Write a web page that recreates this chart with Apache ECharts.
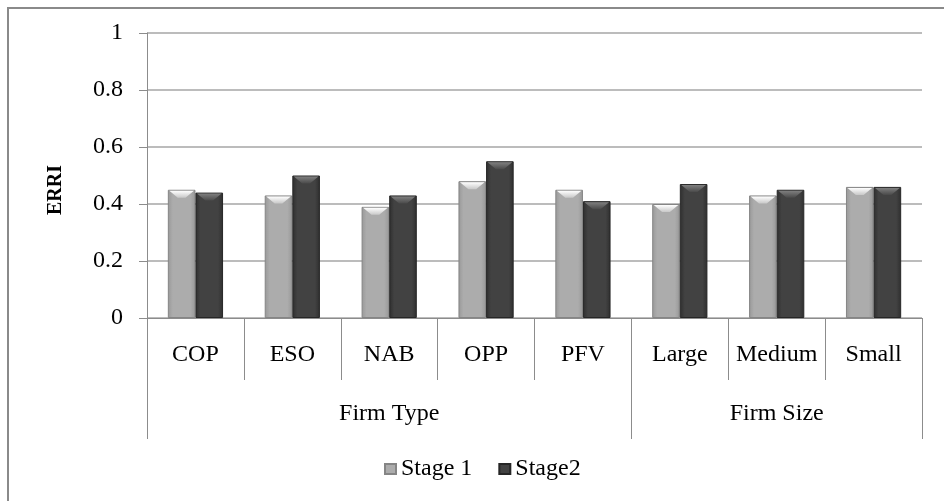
<!DOCTYPE html>
<html>
<head>
<meta charset="utf-8">
<script src="https://cdn.jsdelivr.net/npm/echarts@6/dist/echarts.min.js"></script>
<style>
  html, body { margin: 0; padding: 0; background: #fff; }
  #chart { width: 944px; height: 501px; }
</style>
</head>
<body>
<div id="chart"></div>
<script>
// ERRI by firm type and firm size, two stages
const categories = ['COP', 'ESO', 'NAB', 'OPP', 'PFV', 'Large', 'Medium', 'Small'];
const groupLabels = ['', '', 'Firm Type', '', '', '', 'Firm Size', ''];
const groupStarts = [0, 5];
const stage1 = [0.45, 0.43, 0.39, 0.48, 0.45, 0.40, 0.43, 0.46];
const stage2 = [0.44, 0.50, 0.43, 0.55, 0.41, 0.47, 0.45, 0.46];
const yTicks = [0, 0.2, 0.4, 0.6, 0.8, 1];

const FONT = '"Liberation Serif", "Times New Roman", serif';
const BAR_RATIO = 0.285;

function hGrad(edge, mid) {
  return new echarts.graphic.LinearGradient(0, 0, 1, 0, [
    { offset: 0, color: edge },
    { offset: 0.18, color: mid },
    { offset: 0.82, color: mid },
    { offset: 1, color: edge }
  ]);
}

// top chevron highlight on each bar
function bevel(side, light, dark) {
  return function (params, api) {
    const i = api.value(0);
    const v = api.value(1);
    const pt = api.coord([i, v]);
    const band = api.size([1, 0])[0];
    const w = band * BAR_RATIO;
    const x = side === 0 ? pt[0] - w : pt[0];
    const y = pt[1];
    const h = 8;
    return {
      type: 'polygon',
      shape: {
        points: [
          [x + 1.5, y + 1], [x + w - 1.5, y + 1],
          [x + w * 0.64, y + h], [x + w * 0.36, y + h]
        ]
      },
      style: {
        fill: new echarts.graphic.LinearGradient(0, 0, 0, 1, [
          { offset: 0, color: light },
          { offset: 1, color: dark }
        ])
      },
      silent: true
    };
  };
}

const chart = echarts.init(document.getElementById('chart'), null, { renderer: 'canvas' });

chart.setOption({
  animation: false,
  backgroundColor: '#fff',
  textStyle: { fontFamily: FONT },
  grid: { left: 147, right: 22, top: 33, bottom: 183, containLabel: false },
  legend: {
    data: ['Stage 1', 'Stage2'],
    left: 379,
    top: 452,
    itemWidth: 11,
    itemHeight: 10,
    itemGap: 26,
    icon: 'rect',
    textStyle: { fontFamily: FONT, fontSize: 24, color: '#000' }
  },
  graphic: [
    {
      type: 'rect',
      shape: { x: 8, y: 8, width: 1200, height: 1200 },
      style: { fill: 'none', stroke: '#8a8a8a', lineWidth: 2 },
      silent: true
    },
    {
      type: 'text',
      x: 56,
      y: 190,
      rotation: Math.PI / 2,
      style: {
        text: 'ERRI',
        font: 'bold 20px ' + FONT,
        fill: '#000',
        align: 'center',
        verticalAlign: 'middle'
      }
    }
  ],
  xAxis: [
    {
      type: 'category',
      data: categories,
      position: 'bottom',
      axisLine: { lineStyle: { color: '#8c8c8c', width: 1 } },
      axisTick: { show: true, length: 62, lineStyle: { color: '#8c8c8c', width: 1 } },
      axisLabel: { fontFamily: FONT, fontSize: 24, color: '#000', margin: 25, interval: 0 },
      splitLine: { show: false }
    },
    {
      type: 'category',
      data: groupLabels,
      position: 'bottom',
      axisLine: { show: false },
      axisTick: {
        show: true,
        length: 121,
        interval: function (index) { return groupStarts.indexOf(index) >= 0; },
        lineStyle: { color: '#8c8c8c', width: 1 }
      },
      axisLabel: { fontFamily: FONT, fontSize: 24, color: '#000', margin: 84, interval: 0 },
      splitLine: { show: false }
    }
  ],
  yAxis: {
    type: 'value',
    min: yTicks[0],
    max: yTicks[yTicks.length - 1],
    interval: 0.2,
    axisLine: { show: true, lineStyle: { color: '#8c8c8c', width: 1 } },
    axisTick: { show: true, length: 8, lineStyle: { color: '#8c8c8c', width: 1 } },
    axisLabel: {
      fontFamily: FONT, fontSize: 24, color: '#000', margin: 24,
      formatter: function (v) { return String(Math.round(v * 10) / 10); }
    },
    splitLine: { show: true, lineStyle: { color: '#a6a6a6', width: 1.5 } }
  },
  series: [
    {
      name: 'Stage 1',
      type: 'bar',
      data: stage1,
      barGap: '0%',
      barCategoryGap: '43%',
      itemStyle: { color: hGrad('#989898', '#acacac'), borderColor: '#858585', borderWidth: 1 },
      z: 2
    },
    {
      name: 'Stage2',
      type: 'bar',
      data: stage2,
      itemStyle: { color: hGrad('#2e2e2e', '#424242'), borderColor: '#262626', borderWidth: 1 },
      z: 2
    },
    {
      name: 'bevel1',
      type: 'custom',
      renderItem: bevel(0, '#ffffff', '#c8c8c8'),
      data: stage1.map(function (v, i) { return [i, v]; }),
      encode: { x: 0, y: 1 },
      z: 3
    },
    {
      name: 'bevel2',
      type: 'custom',
      renderItem: bevel(1, '#808080', '#4a4a4a'),
      data: stage2.map(function (v, i) { return [i, v]; }),
      encode: { x: 0, y: 1 },
      z: 3
    }
  ]
});
</script>
</body>
</html>
